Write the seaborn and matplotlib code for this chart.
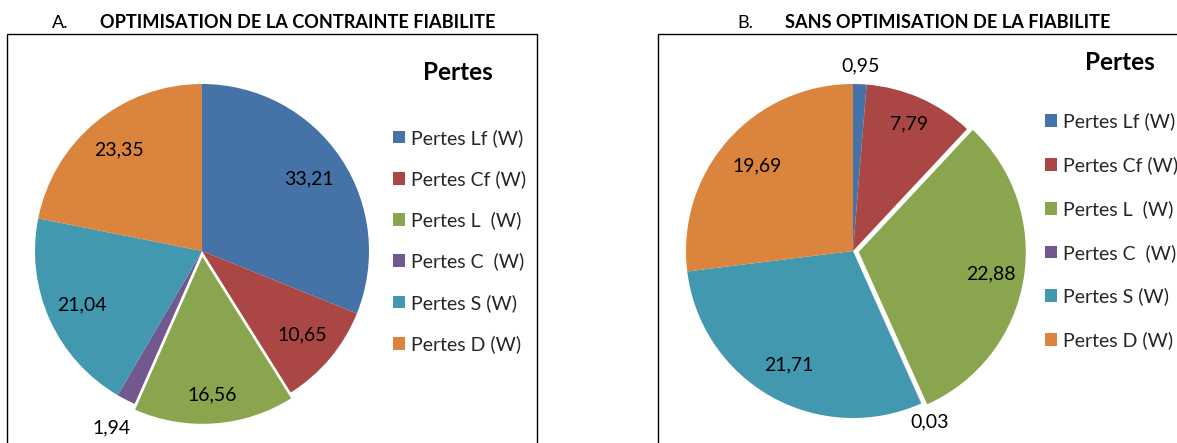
import matplotlib
matplotlib.use("Agg")
import matplotlib.pyplot as plt
from matplotlib.patches import Rectangle
import numpy as np
import seaborn as sns

# Loss categories and values (W)
categories = ["Pertes Lf (W)", "Pertes Cf (W)", "Pertes L  (W)",
              "Pertes C  (W)", "Pertes S (W)", "Pertes D (W)"]
pertes_optim = [33.21, 10.65, 16.56, 1.94, 21.04, 23.35]
pertes_sans = [0.95, 7.79, 22.88, 0.03, 21.71, 19.69]

titles = ["OPTIMISATION DE LA CONTRAINTE FIABILITE",
          "SANS OPTIMISATION DE LA FIABILITE"]
panel_letters = ["A.", "B."]
legend_title = "Pertes"

palette = ["#4572A7", "#AA4643", "#89A54E", "#71588F", "#4198AF", "#DB843D"]

sns.set_theme(style="white")
plt.rcParams["font.family"] = ["Lato", "DejaVu Sans"]

W, H = 1177, 443
fig = plt.figure(figsize=(W / 100, H / 100), dpi=100)
fig.patch.set_facecolor("white")


def fx(px):
    return px / W


def fy(py):
    return 1 - py / H


LEG_FS = 14
LABEL_FS = 14
TITLE_FS = 13.1

# Layout of each panel (pixels)
panels = [
    dict(values=pertes_optim, cx=202, cy=251, r=167,
         explode=[0, 0, 0.035, 0, 0, 0],
         label_r=[0.77, 0.785, 0.83, 1.19, 0.79, 0.78],
         frame=(7, 34, 537), title_x=(52, 100),
         leg_x=393, leg_cy=241, leg_space=1.2, leg_title=(458, 72)),
    dict(values=pertes_sans, cx=853, cy=251, r=167,
         explode=[0, 0, 0.035, 0, 0, 0],
         label_r=[1.11, 0.83, 0.80, 1.12, 0.78, 0.77],
         frame=(658, 34, 1260), title_x=(737, 785),
         leg_x=1045, leg_cy=231, leg_space=1.33, leg_title=(1120, 63)),
]

span = 1.5
for i, p in enumerate(panels):
    size = p["r"] * 2 * span
    ax = fig.add_axes([fx(p["cx"] - size / 2), fy(p["cy"] + size / 2),
                       size / W, size / H])
    wedges, _ = ax.pie(p["values"], colors=palette, startangle=90,
                       counterclock=False, explode=p["explode"],
                       wedgeprops=dict(linewidth=0))
    ax.set_xlim(-span, span)
    ax.set_ylim(-span, span)
    ax.set_aspect("equal")
    ax.set_axis_off()

    # value labels placed along each wedge's bisector
    for w, v, lr in zip(wedges, p["values"], p["label_r"]):
        mid = np.deg2rad((w.theta1 + w.theta2) / 2)
        cxw, cyw = w.center
        ax.text(cxw + lr * np.cos(mid), cyw + lr * np.sin(mid),
                f"{v:.2f}".replace(".", ","), ha="center", va="center",
                fontsize=LABEL_FS, color="black", clip_on=False)

    # chart frame
    x0, y0, x1 = p["frame"]
    fig.add_artist(Rectangle((fx(x0), fy(470)), fx(x1) - fx(x0), fy(y0) - fy(470),
                             transform=fig.transFigure, fill=False,
                             edgecolor="black", linewidth=1.0))

    # panel heading
    fig.text(fx(p["title_x"][0]), fy(23), panel_letters[i], ha="left",
             va="center", fontsize=TITLE_FS, color="black")
    fig.text(fx(p["title_x"][1]), fy(23), titles[i], ha="left", va="center",
             fontsize=TITLE_FS, fontweight="bold", color="black")

    # legend
    fig.text(fx(p["leg_title"][0]), fy(p["leg_title"][1]), legend_title,
             ha="center", va="center", fontsize=17.5, fontweight="bold",
             color="black")
    fig.legend(wedges, categories, loc="center left",
               bbox_to_anchor=(fx(p["leg_x"]), fy(p["leg_cy"])),
               frameon=False, fontsize=LEG_FS, borderpad=0, borderaxespad=0,
               handlelength=0.62, handleheight=0.62, handletextpad=0.33,
               labelspacing=p["leg_space"])

fig.savefig("out.png", dpi=100, facecolor="white")
